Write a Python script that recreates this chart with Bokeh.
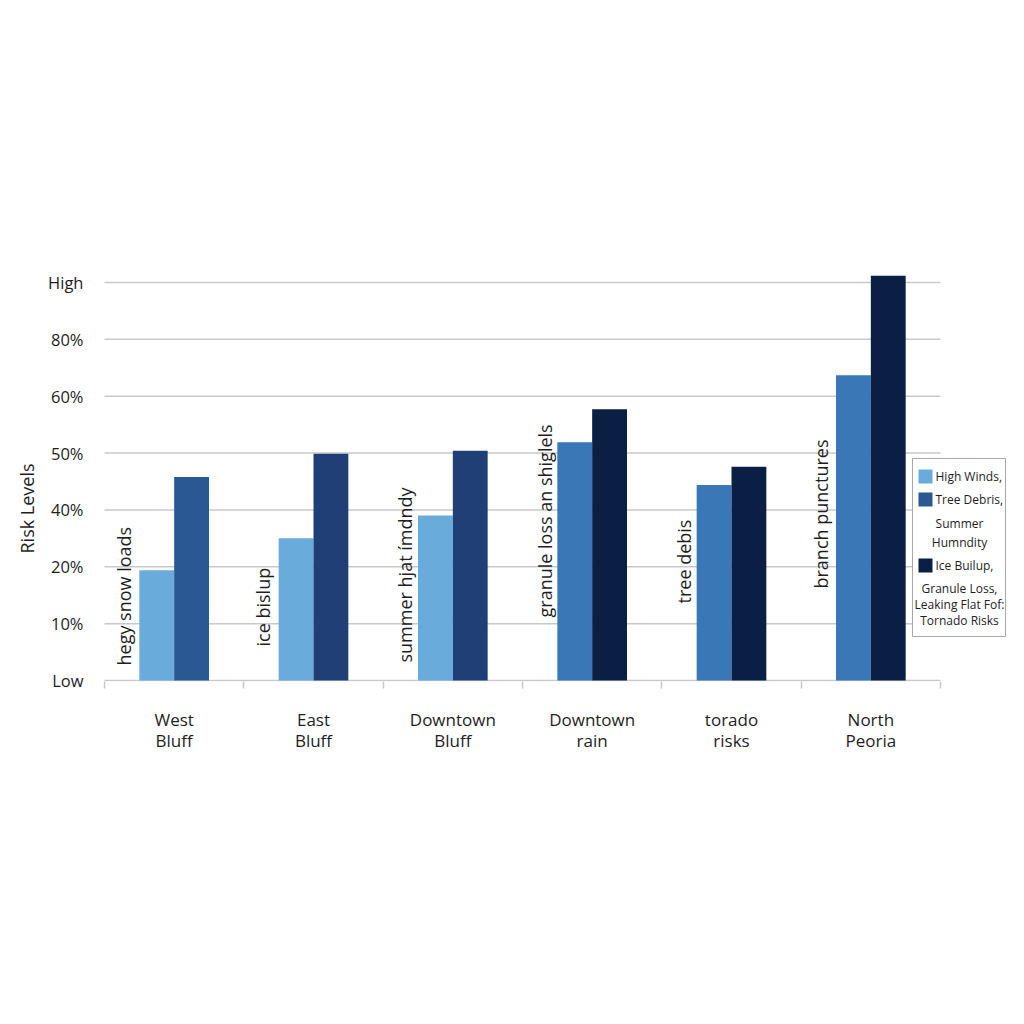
import math

from bokeh.core.properties import value
from bokeh.embed import file_html
from bokeh.models import FixedTicker, Range1d, Title
from bokeh.plotting import figure
from bokeh.resources import INLINE

# chart values (risk scale: 0 = Low ... 7 = High)
areas = ["West\nBluff", "East\nBluff", "Downtown\nBluff",
         "Downtown\nrain", "torado\nrisks", "North\nPeoria"]
first_risk = [1.94, 2.50, 2.90, 4.19, 3.44, 5.37]
second_risk = [3.58, 3.99, 4.04, 4.77, 3.76, 7.12]
risk_ticks = [0, 1, 2, 3, 4, 5, 6, 7]
risk_labels = ["Low", "10%", "20%", "40%", "50%", "60%", "80%", "High"]
notes = ["hegy snow loads", "ice bislup", "summer hjat ímdndy",
         "granule loss an shiglels", "tree debis", "branch punctures"]
legend_names = [["High Winds,"],
                ["Tree Debris,", "Summer", "Humndity"],
                ["Ice Builup,", "Granule Loss,", "Leaking Flat Fof:", "Tornado Risks"]]

# styles
LIGHT, MID, NAVY = "#69acdc", "#3a77b6", "#0b1e44"
first_colors = [LIGHT, LIGHT, LIGHT, MID, MID, MID]
second_colors = ["#2a5893", "#213f77", "#213f77", NAVY, NAVY, NAVY]
legend_colors = [LIGHT, "#2a5893", NAVY]
GRID = "#c9c9c9"
INK = "#1e1e1e"
FONT = "Open Sans"

# frame geometry in canvas pixels
W, H = 1008, 1008
FL, FR, FT, FB = 104, W, 240, 681
XPX = 836 / 6          # pixels per group
YPX = 398 / 7          # pixels per risk step
x_end = (FR - FL) / XPX
y_start = -(FB - 680) / YPX
y_end = (680 - FT) / YPX


def px_x(px):
    return (px - FL) / XPX


def px_y(py):
    return (680 - py) / YPX


n = len(areas)
centers = [i + 0.5 for i in range(n)]

p = figure(width=W, height=H, output_backend="svg", toolbar_location=None,
           x_range=Range1d(0, x_end), y_range=Range1d(y_start, y_end),
           min_border_left=FL, min_border_right=0,
           min_border_top=FT, min_border_bottom=H - FB)
p.outline_line_color = None
p.xgrid.visible = False
p.ygrid.visible = False

# gridlines only across the chart area
p.segment(x0=[px_x(101)] * len(risk_ticks), x1=[n] * len(risk_ticks),
          y0=risk_ticks, y1=risk_ticks, line_color=GRID, line_width=1.5)

p.vbar(x=[c - 0.125 for c in centers], top=first_risk, bottom=0, width=0.25,
       fill_color=first_colors, line_color=None)
p.vbar(x=[c + 0.125 for c in centers], top=second_risk, bottom=0, width=0.25,
       fill_color=second_colors, line_color=None)

# rotated notes inside each group
note_x = [123, 262, 404, 544, 683, 820]
note_y = [665, 646, 662, 617, 603, 588]
p.text(x=[px_x(v) for v in note_x], y=[px_y(v) for v in note_y], text=notes,
       angle=math.pi / 2, text_align="left", text_baseline="middle",
       text_font=value(FONT), text_font_size="18px", text_color=INK)

# legend box drawn by hand
p.quad(left=px_x(912), right=px_x(1005), top=px_y(458), bottom=px_y(636),
       fill_color="white", line_color="#a8a8a8", line_width=1)
sq_y = [476, 499, 565]
p.rect(x=[px_x(925)] * 3, y=[px_y(v) for v in sq_y], width=14 / XPX, height=14 / YPX,
       fill_color=legend_colors, line_color=None)
rows = [[476], [499, 523, 542], [565, 588, 604, 620]]
lx, ly, la, lt = [], [], [], []
for names, ys in zip(legend_names, rows):
    for k, (t, yy) in enumerate(zip(names, ys)):
        lx.append(px_x(935) if k == 0 else px_x(959))
        ly.append(px_y(yy))
        la.append("left" if k == 0 else "center")
        lt.append(t)
p.text(x=lx, y=ly, text=lt, text_align=la, text_baseline="middle",
       text_font=value(FONT), text_font_size="12px", text_color=INK)

# axes
p.yaxis.ticker = FixedTicker(ticks=risk_ticks)
p.yaxis.major_label_overrides = {t: lab for t, lab in zip(risk_ticks, risk_labels)}
p.yaxis.axis_line_color = None
p.yaxis.major_tick_line_color = None
p.yaxis.minor_tick_line_color = None
p.yaxis.major_label_standoff = 15
p.yaxis.major_label_text_font = FONT
p.yaxis.major_label_text_font_size = "16.5px"
p.yaxis.major_label_text_color = INK

p.xaxis.ticker = FixedTicker(ticks=centers, minor_ticks=list(range(n + 1)))
p.xaxis.major_label_overrides = {c: a for c, a in zip(centers, areas)}
p.xaxis.axis_line_color = None
p.xaxis.major_tick_line_color = None
p.xaxis.minor_tick_in = 0
p.xaxis.minor_tick_out = 7
p.xaxis.minor_tick_line_color = GRID
p.xaxis.minor_tick_line_width = 1.5
p.xaxis.major_label_standoff = 19
p.xaxis.major_label_text_font = FONT
p.xaxis.major_label_text_font_size = "17px"
p.xaxis.major_label_text_line_height = 0.95
p.xaxis.major_label_text_color = INK

p.add_layout(Title(text="Risk Levels", align="left", offset=FB - 553,
                   text_font=FONT, text_font_size="18px", text_font_style="normal",
                   text_color=INK, standoff=14), "left")

open("out.html", "w").write(file_html(p, INLINE))
